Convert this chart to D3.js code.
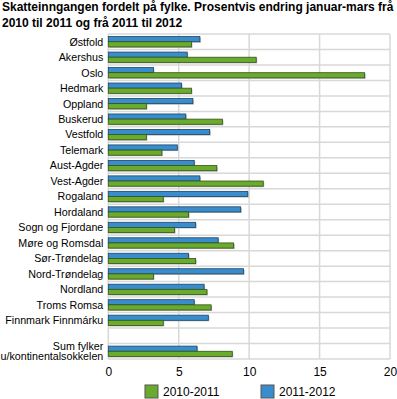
<!DOCTYPE html>
<html>
<head>
<meta charset="utf-8">
<script src="https://cdn.jsdelivr.net/npm/d3@7"></script>
<style>
  body { margin: 0; background: #fff; }
  svg text { font-family: "Liberation Sans", Arial, sans-serif; }
</style>
</head>
<body>
<div class="chart"></div>
<script>
// counties, plus an empty spacer row before the total
var fylker = ["Østfold", "Akershus", "Oslo", "Hedmark", "Oppland", "Buskerud", "Vestfold",
  "Telemark", "Aust-Agder", "Vest-Agder", "Rogaland", "Hordaland", "Sogn og Fjordane",
  "Møre og Romsdal", "Sør-Trøndelag", "Nord-Trøndelag", "Nordland", "Troms Romsa",
  "Finnmark Finnmárku", "", "Sum fylker\nu/kontinentalsokkelen"];

var endring1011 = [5.9, 10.5, 18.2, 5.9, 2.7, 8.1, 2.7, 3.8, 7.7, 11.0, 3.9, 5.7, 4.7,
  8.9, 6.2, 3.2, 7.0, 7.3, 3.9, null, 8.8];
var endring1112 = [6.5, 5.6, 3.2, 5.2, 6.0, 5.5, 7.2, 4.9, 6.1, 6.5, 9.9, 9.4, 6.2,
  7.8, 5.7, 9.6, 6.8, 6.1, 7.1, null, 6.3];

var serier = ["2011-2012", "2010-2011"];
var xTicks = [0, 5, 10, 15, 20];
var tittel = ["Skatteinngangen fordelt på fylke. Prosentvis endring januar-mars frå",
  "2010 til 2011 og frå 2011 til 2012"];

var width = 397, height = 399;
var margin = {top: 34, right: 7, bottom: 40, left: 108.3};
var w = width - margin.left - margin.right;
var h = height - margin.top - margin.bottom;

var farge = {"2010-2011": "#6aab2e", "2011-2012": "#3a8dcc"};

var svg = d3.select(".chart").append("svg")
  .attr("width", width)
  .attr("height", height);

// title
svg.append("text")
  .style("font-size", "12px")
  .style("font-weight", "bold")
  .selectAll("tspan")
  .data(tittel)
  .enter().append("tspan")
  .attr("x", 2)
  .attr("y", function (d, i) { return 10.5 + i * 16; })
  .text(function (d) { return d; });

var g = svg.append("g")
  .attr("transform", "translate(" + margin.left + "," + margin.top + ")");

var x = d3.scaleLinear().domain([0, 20]).range([0, w]);
var y = d3.scaleBand().domain(d3.range(fylker.length)).range([0, h]);
var ySub = d3.scaleBand().domain(serier).range([0, y.bandwidth()]).paddingOuter(0.5);

// grid
g.selectAll(".vgrid")
  .data(xTicks)
  .enter().append("line")
  .attr("x1", function (d) { return x(d); })
  .attr("x2", function (d) { return x(d); })
  .attr("y1", 0)
  .attr("y2", h)
  .attr("stroke", "#d8d8d8")
  .attr("stroke-width", 1.5);

g.selectAll(".hgrid")
  .data(d3.range(fylker.length + 1))
  .enter().append("line")
  .attr("x1", 0)
  .attr("x2", w)
  .attr("y1", function (d) { return d * y.step(); })
  .attr("y2", function (d) { return d * y.step(); })
  .attr("stroke", "#d8d8d8")
  .attr("stroke-width", 1.5);

// bars
var rader = [];
fylker.forEach(function (f, i) {
  if (endring1112[i] != null) rader.push({i: i, serie: "2011-2012", v: endring1112[i]});
  if (endring1011[i] != null) rader.push({i: i, serie: "2010-2011", v: endring1011[i]});
});

// shadow
g.selectAll(".skygge")
  .data(rader)
  .enter().append("rect")
  .attr("x", x(0) + 1)
  .attr("y", function (d) { return y(d.i) + ySub(d.serie) + 1; })
  .attr("width", function (d) { return x(d.v) - x(0); })
  .attr("height", ySub.bandwidth())
  .attr("fill", "#b5b5b5");

g.selectAll(".bar")
  .data(rader)
  .enter().append("rect")
  .attr("x", x(0))
  .attr("y", function (d) { return y(d.i) + ySub(d.serie); })
  .attr("width", function (d) { return x(d.v) - x(0); })
  .attr("height", ySub.bandwidth())
  .attr("fill", function (d) { return farge[d.serie]; })
  .attr("stroke", function (d) { return d3.color(farge[d.serie]).darker(2); })
  .attr("stroke-width", 0.8);

// y axis labels
var yAxis = g.append("g")
  .call(d3.axisLeft(y).tickSize(0).tickPadding(5).tickFormat(function () { return ""; }));
yAxis.attr("font-family", null);
yAxis.select(".domain").remove();
yAxis.selectAll(".tick text").each(function (i) {
  var linjer = fylker[i].split("\n");
  var t = d3.select(this)
    .style("font-size", "10.7px")
    .attr("fill", "#000")
    .attr("dy", null);
  linjer.forEach(function (l, k) {
    t.append("tspan")
      .attr("x", -5)
      .attr("y", (k - (linjer.length - 1) / 2) * 10.5)
      .attr("dy", "0.36em")
      .text(l);
  });
});

// x axis
var xAxis = g.append("g")
  .attr("transform", "translate(0," + h + ")")
  .call(d3.axisBottom(x).tickValues(xTicks).tickSize(0).tickPadding(8));
xAxis.attr("font-family", null);
xAxis.select(".domain").remove();
xAxis.selectAll(".tick text")
  .style("font-size", "12px")
  .attr("fill", "#000");

// legend
var legendX = [145, 261];
var legend = svg.selectAll(".legend")
  .data(["2010-2011", "2011-2012"])
  .enter().append("g")
  .attr("transform", function (d, i) { return "translate(" + legendX[i] + ",385)"; });
legend.append("rect")
  .attr("width", 13)
  .attr("height", 13)
  .attr("fill", function (d) { return farge[d]; })
  .attr("stroke", "#555")
  .attr("stroke-width", 1);
legend.append("text")
  .attr("x", 18)
  .attr("y", 11)
  .style("font-size", "12px")
  .text(function (d) { return d; });
</script>
</body>
</html>
